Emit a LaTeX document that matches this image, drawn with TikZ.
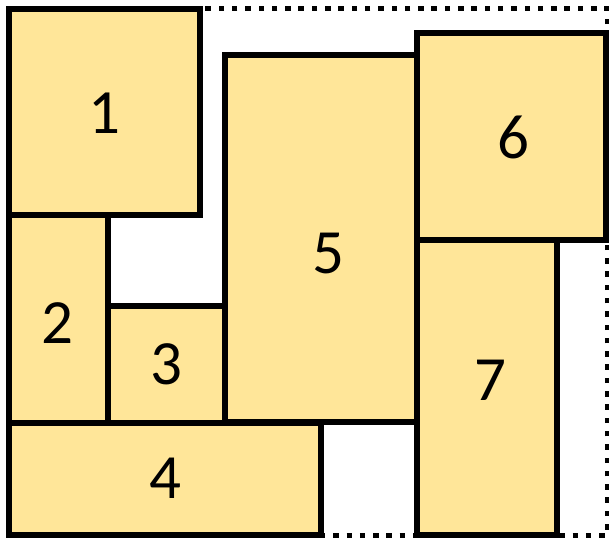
\documentclass[tikz,border=0pt]{standalone}
\usepackage{fontspec}
\setmainfont{Carlito}
\usepackage{xcolor}
\usepackage{tikz}
\definecolor{boxfill}{RGB}{255,230,153}

\begin{document}
\begin{tikzpicture}[x=1pt, y=-1pt]
\tikzstyle{block} = [rectangle, draw, fill=boxfill, line width=6pt, inner sep=0pt, outer sep=0pt]
\tikzstyle{num} = [font=\fontsize{63}{70}\selectfont, inner sep=0pt]
\tikzstyle{frame} = [draw, line width=5pt, dash pattern=on 5.5pt off 7.8pt]

\useasboundingbox (0,0) rectangle (609,539);

\coordinate (tl) at (9,8);
\coordinate (br) at (607,535);
\draw [frame] (tl) rectangle (br);

\node [block, minimum width=191pt, minimum height=206pt] (box1) at (104.5,112) {};
\node [block, minimum width=99pt, minimum height=208pt] (box2) at (58.5,319) {};
\node [block, minimum width=117pt, minimum height=117pt] (box3) at (166.5,364.5) {};
\node [block, minimum width=312pt, minimum height=112pt] (box4) at (165,479) {};
\node [block, minimum width=192pt, minimum height=367pt] (box5) at (321,238.5) {};
\node [block, minimum width=189pt, minimum height=207pt] (box6) at (511.5,136.5) {};
\node [block, minimum width=140pt, minimum height=295pt] (box7) at (487,387.5) {};

\node [num] (num1) at (104,113) {1};
\node [num] (num2) at (57.5,323) {2};
\node [num] (num3) at (166,364) {3};
\node [num] (num4) at (165,478) {4};
\node [num] (num5) at (328,253) {5};
\node [num] (num6) at (513,137.5) {6};
\node [num] (num7) at (490,380) {7};

\end{tikzpicture}
\end{document}
